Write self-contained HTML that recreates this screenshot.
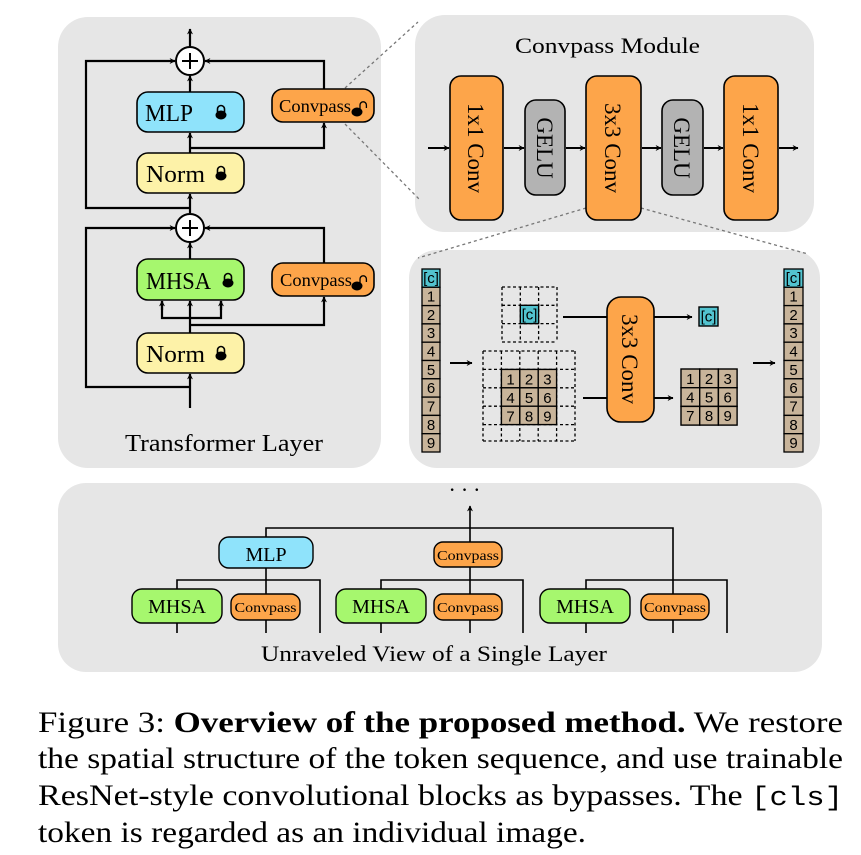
<!DOCTYPE html>
<html><head><meta charset="utf-8"><style>
html,body{margin:0;padding:0;background:#fff;width:861px;height:855px;overflow:hidden}
svg{display:block}
.s{font-family:"Liberation Serif",serif;fill:#000}
.a{font-family:"Liberation Sans",sans-serif;fill:#000}
</style></head><body>
<svg width="861" height="855" viewBox="0 0 861 855" xmlns="http://www.w3.org/2000/svg">
<defs>
<marker id="ar" viewBox="0 0 10 10" refX="9" refY="5" markerWidth="6" markerHeight="6" orient="auto-start-reverse" markerUnits="userSpaceOnUse">
<path d="M0,0 L10,5 L0,10 L3,5 z" fill="#000"/></marker>
<g id="lock"><path d="M-3.5,-1 v-3 a3.5,3.5 0 0 1 7,0 v3" fill="none" stroke="#000" stroke-width="1.6"/><ellipse cx="0" cy="2" rx="5.5" ry="4.5" fill="#000"/></g>
<g id="ulock"><path d="M3,-1 v-4 a3.2,3.2 0 0 1 6.4,0 v3" fill="none" stroke="#000" stroke-width="1.3"/><ellipse cx="0" cy="2" rx="5.5" ry="4.5" fill="#000"/></g>
</defs>

<rect x="58" y="17" width="323" height="451" rx="30" fill="#e6e6e6"/>
<rect x="415" y="15" width="399" height="217" rx="30" fill="#e6e6e6"/>
<rect x="409" y="250" width="411" height="218" rx="28" fill="#e6e6e6"/>
<rect x="58" y="483" width="764" height="189" rx="28" fill="#e6e6e6"/>

<g stroke="#777" stroke-width="1.3" stroke-dasharray="3,3" fill="none">
<line x1="345" y1="88" x2="418" y2="22"/>
<line x1="345" y1="124" x2="420" y2="200"/>
<line x1="586" y1="208" x2="418" y2="258"/>
<line x1="641" y1="208" x2="808" y2="254"/>
</g>

<g stroke="#000" stroke-width="2.2" fill="none">
<line x1="190" y1="47" x2="190" y2="29" marker-end="url(#ar)"/>
<polyline points="190,208 86,208 86,61 175,61" marker-end="url(#ar)"/>
<polyline points="324,89 324,61 205,61" marker-end="url(#ar)"/>
<line x1="190" y1="92" x2="190" y2="76" marker-end="url(#ar)"/>
<line x1="190" y1="153" x2="190" y2="133" marker-end="url(#ar)"/>
<polyline points="190,148 324,148 324,123" marker-end="url(#ar)"/>
<line x1="190" y1="213" x2="190" y2="194" marker-end="url(#ar)"/>
<polyline points="190,387 86,387 86,228 175,228" marker-end="url(#ar)"/>
<polyline points="324,263 324,228 205,228" marker-end="url(#ar)"/>
<line x1="190" y1="259" x2="190" y2="243" marker-end="url(#ar)"/>
<line x1="190" y1="333" x2="190" y2="301" marker-end="url(#ar)"/>
<polyline points="162,301 162,318 221,318 221,301"/>
<line x1="162" y1="310" x2="162" y2="301" marker-end="url(#ar)"/>
<line x1="221" y1="310" x2="221" y2="301" marker-end="url(#ar)"/>
<polyline points="190,325 324,325 324,297" marker-end="url(#ar)"/>
<line x1="190" y1="408" x2="190" y2="374" marker-end="url(#ar)"/>
</g>
<g stroke="#000" stroke-width="2">
<circle cx="190" cy="61" r="14" fill="#fff"/>
<line x1="182" y1="61" x2="198" y2="61"/><line x1="190" y1="53" x2="190" y2="69"/>
<circle cx="190" cy="228" r="14" fill="#fff"/>
<line x1="182" y1="228" x2="198" y2="228"/><line x1="190" y1="220" x2="190" y2="236"/>
</g>
<g stroke="#000" stroke-width="1.6">
<rect x="137" y="92" width="107" height="40" rx="11" fill="#8fe3fb"/>
<rect x="272" y="89" width="102" height="33" rx="11" fill="#fda54a"/>
<rect x="137" y="153" width="107" height="40" rx="11" fill="#fdf2a8"/>
<rect x="137" y="259" width="107" height="41" rx="11" fill="#a6f76e"/>
<rect x="272" y="263" width="102" height="33" rx="11" fill="#fda54a"/>
<rect x="137" y="333" width="107" height="40" rx="11" fill="#fdf2a8"/>
</g>
<text class="s" x="145" y="121" font-size="24" textLength="48" lengthAdjust="spacingAndGlyphs">MLP</text>
<use href="#lock" x="221" y="113"/>
<text class="s" x="279" y="112" font-size="18" textLength="72" lengthAdjust="spacingAndGlyphs">Convpass</text>
<use href="#ulock" x="357" y="110"/>
<text class="s" x="146" y="182" font-size="24" textLength="59" lengthAdjust="spacingAndGlyphs">Norm</text>
<use href="#lock" x="221" y="174"/>
<text class="s" x="146" y="289" font-size="24" textLength="65" lengthAdjust="spacingAndGlyphs">MHSA</text>
<use href="#lock" x="228" y="281"/>
<text class="s" x="280" y="286" font-size="18" textLength="72" lengthAdjust="spacingAndGlyphs">Convpass</text>
<use href="#ulock" x="357" y="284"/>
<text class="s" x="146" y="362" font-size="24" textLength="59" lengthAdjust="spacingAndGlyphs">Norm</text>
<use href="#lock" x="221" y="354"/>
<text class="s" x="125" y="451" font-size="24" textLength="198" lengthAdjust="spacingAndGlyphs">Transformer Layer</text>

<text class="s" x="515" y="53" font-size="22" textLength="185" lengthAdjust="spacingAndGlyphs">Convpass Module</text>
<g stroke="#000" stroke-width="2" fill="none">
<line x1="428" y1="148" x2="449" y2="148" marker-end="url(#ar)"/>
<line x1="504" y1="148" x2="524" y2="148" marker-end="url(#ar)"/>
<line x1="566" y1="148" x2="585" y2="148" marker-end="url(#ar)"/>
<line x1="642" y1="148" x2="661" y2="148" marker-end="url(#ar)"/>
<line x1="704" y1="148" x2="723" y2="148" marker-end="url(#ar)"/>
<line x1="779" y1="148" x2="798" y2="148" marker-end="url(#ar)"/>
</g>
<g stroke="#000" stroke-width="1.6">
<rect x="450" y="76" width="53" height="144" rx="11" fill="#fda54a"/>
<rect x="525" y="100" width="40" height="95" rx="11" fill="#b3b3b3"/>
<rect x="586" y="76" width="55" height="144" rx="11" fill="#fda54a"/>
<rect x="662" y="100" width="41" height="95" rx="11" fill="#b3b3b3"/>
<rect x="724" y="76" width="54" height="144" rx="11" fill="#fda54a"/>
</g>
<g class="s" font-size="23" text-anchor="middle">
<text transform="translate(476,148) rotate(90)" dy="8">1x1 Conv</text>
<text transform="translate(545,148) rotate(90)" dy="8">GELU</text>
<text transform="translate(613,148) rotate(90)" dy="8">3x3 Conv</text>
<text transform="translate(682,148) rotate(90)" dy="8">GELU</text>
<text transform="translate(751,148) rotate(90)" dy="8">1x1 Conv</text>
</g>

<g stroke="#000" stroke-width="1.3" font-size="14">
<rect x="422" y="269" width="18" height="18.3" fill="#52c3cf"/>
<rect x="422" y="287.3" width="18" height="18.3" fill="#c8b49a"/>
<rect x="422" y="305.6" width="18" height="18.3" fill="#c8b49a"/>
<rect x="422" y="323.9" width="18" height="18.3" fill="#c8b49a"/>
<rect x="422" y="342.2" width="18" height="18.3" fill="#c8b49a"/>
<rect x="422" y="360.5" width="18" height="18.3" fill="#c8b49a"/>
<rect x="422" y="378.8" width="18" height="18.3" fill="#c8b49a"/>
<rect x="422" y="397.1" width="18" height="18.3" fill="#c8b49a"/>
<rect x="422" y="415.4" width="18" height="18.3" fill="#c8b49a"/>
<rect x="422" y="433.7" width="18" height="18.3" fill="#c8b49a"/>
<rect x="784" y="269" width="19" height="18.3" fill="#52c3cf"/>
<rect x="784" y="287.3" width="19" height="18.3" fill="#c8b49a"/>
<rect x="784" y="305.6" width="19" height="18.3" fill="#c8b49a"/>
<rect x="784" y="323.9" width="19" height="18.3" fill="#c8b49a"/>
<rect x="784" y="342.2" width="19" height="18.3" fill="#c8b49a"/>
<rect x="784" y="360.5" width="19" height="18.3" fill="#c8b49a"/>
<rect x="784" y="378.8" width="19" height="18.3" fill="#c8b49a"/>
<rect x="784" y="397.1" width="19" height="18.3" fill="#c8b49a"/>
<rect x="784" y="415.4" width="19" height="18.3" fill="#c8b49a"/>
<rect x="784" y="433.7" width="19" height="18.3" fill="#c8b49a"/>
</g>
<g class="a" font-size="15" text-anchor="middle">
<text x="431" y="283">[c]</text><text x="431" y="301.5">1</text><text x="431" y="320">2</text><text x="431" y="338">3</text><text x="431" y="356.5">4</text><text x="431" y="375">5</text><text x="431" y="393">6</text><text x="431" y="411.5">7</text><text x="431" y="430">8</text><text x="431" y="448">9</text>
<text x="793.5" y="283">[c]</text><text x="793.5" y="301.5">1</text><text x="793.5" y="320">2</text><text x="793.5" y="338">3</text><text x="793.5" y="356.5">4</text><text x="793.5" y="375">5</text><text x="793.5" y="393">6</text><text x="793.5" y="411.5">7</text><text x="793.5" y="430">8</text><text x="793.5" y="448">9</text>
</g>
<g stroke="#000" stroke-width="1.3" stroke-dasharray="3,2.5" fill="none">
<path d="M502,287 H557 M502,305.3 H557 M502,323.6 H557 M502,342 H557 M502,287 V342 M520.3,287 V342 M538.6,287 V342 M557,287 V342"/>
<path d="M483,351 H575 M483,369.4 H575 M483,387.8 H575 M483,406.2 H575 M483,424.6 H575 M483,441 H575 M483,351 V441 M501.4,351 V441 M519.8,351 V441 M538.2,351 V441 M556.6,351 V441 M575,351 V441"/>
</g>
<g stroke="#000" stroke-width="1.4">
<rect x="520.3" y="305.3" width="18.3" height="18.3" fill="#52c3cf"/>
<rect x="501.4" y="369.4" width="18.4" height="18.4" fill="#c8b49a"/><rect x="519.8" y="369.4" width="18.4" height="18.4" fill="#c8b49a"/><rect x="538.2" y="369.4" width="18.4" height="18.4" fill="#c8b49a"/>
<rect x="501.4" y="387.8" width="18.4" height="18.4" fill="#c8b49a"/><rect x="519.8" y="387.8" width="18.4" height="18.4" fill="#c8b49a"/><rect x="538.2" y="387.8" width="18.4" height="18.4" fill="#c8b49a"/>
<rect x="501.4" y="406.2" width="18.4" height="18.4" fill="#c8b49a"/><rect x="519.8" y="406.2" width="18.4" height="18.4" fill="#c8b49a"/><rect x="538.2" y="406.2" width="18.4" height="18.4" fill="#c8b49a"/>
<rect x="699" y="307" width="19" height="19" fill="#52c3cf"/>
<rect x="681" y="369" width="18.7" height="18.7" fill="#c8b49a"/><rect x="699.7" y="369" width="18.7" height="18.7" fill="#c8b49a"/><rect x="718.4" y="369" width="18.7" height="18.7" fill="#c8b49a"/>
<rect x="681" y="387.7" width="18.7" height="18.7" fill="#c8b49a"/><rect x="699.7" y="387.7" width="18.7" height="18.7" fill="#c8b49a"/><rect x="718.4" y="387.7" width="18.7" height="18.7" fill="#c8b49a"/>
<rect x="681" y="406.4" width="18.7" height="18.7" fill="#c8b49a"/><rect x="699.7" y="406.4" width="18.7" height="18.7" fill="#c8b49a"/><rect x="718.4" y="406.4" width="18.7" height="18.7" fill="#c8b49a"/>
</g>
<g class="a" font-size="15" text-anchor="middle">
<text x="529.5" y="319.5">[c]</text>
<text x="510.6" y="384.5">1</text><text x="529" y="384.5">2</text><text x="547.4" y="384.5">3</text>
<text x="510.6" y="403">4</text><text x="529" y="403">5</text><text x="547.4" y="403">6</text>
<text x="510.6" y="421.5">7</text><text x="529" y="421.5">8</text><text x="547.4" y="421.5">9</text>
<text x="708.5" y="321.5">[c]</text>
<text x="690.3" y="384">1</text><text x="709" y="384">2</text><text x="727.7" y="384">3</text>
<text x="690.3" y="402.5">4</text><text x="709" y="402.5">5</text><text x="727.7" y="402.5">6</text>
<text x="690.3" y="421">7</text><text x="709" y="421">8</text><text x="727.7" y="421">9</text>
</g>
<g stroke="#000" stroke-width="2" fill="none">
<line x1="450" y1="363" x2="472" y2="363" marker-end="url(#ar)"/>
<line x1="563" y1="317" x2="608" y2="317"/>
<line x1="583" y1="398" x2="608" y2="398"/>
<line x1="654" y1="317" x2="692" y2="317" marker-end="url(#ar)"/>
<line x1="654" y1="398" x2="673" y2="398" marker-end="url(#ar)"/>
<line x1="753" y1="363" x2="775" y2="363" marker-end="url(#ar)"/>
</g>
<rect x="607" y="297" width="47" height="125" rx="14" fill="#fda54a" stroke="#000" stroke-width="1.6"/>
<text class="s" font-size="23" text-anchor="middle" transform="translate(630,359) rotate(90)" dy="8">3x3 Conv</text>

<text class="s" x="467" y="497" font-size="22" text-anchor="middle" letter-spacing="5">···</text>
<g stroke="#000" stroke-width="1.6" fill="none">
<line x1="470" y1="542" x2="470" y2="506" marker-end="url(#ar)"/>
<polyline points="266,537 266,528 673,528 673,633"/>
<line x1="266" y1="568" x2="266" y2="633"/>
<line x1="470" y1="567" x2="470" y2="633"/>
<polyline points="177,633 177,580 320,580 320,633"/>
<polyline points="381,633 381,580 523,580 523,633"/>
<polyline points="586,633 586,580 727,580 727,633"/>
</g>
<g stroke="#000" stroke-width="1.4">
<rect x="219" y="537" width="94" height="31" rx="10" fill="#8fe3fb"/>
<rect x="434" y="542" width="68" height="25" rx="9" fill="#fda54a"/>
<rect x="132" y="589" width="90" height="34" rx="10" fill="#a6f76e"/>
<rect x="231" y="594" width="69" height="26" rx="9" fill="#fda54a"/>
<rect x="336" y="589" width="90" height="34" rx="10" fill="#a6f76e"/>
<rect x="434" y="594" width="68" height="26" rx="9" fill="#fda54a"/>
<rect x="540" y="589" width="90" height="34" rx="10" fill="#a6f76e"/>
<rect x="641" y="594" width="68" height="26" rx="9" fill="#fda54a"/>
</g>
<g class="s" text-anchor="middle">
<text x="266" y="561" font-size="20">MLP</text>
<text x="468" y="560" font-size="14" textLength="62" lengthAdjust="spacingAndGlyphs">Convpass</text>
<text x="177" y="613" font-size="20">MHSA</text>
<text x="265.5" y="612" font-size="14" textLength="62" lengthAdjust="spacingAndGlyphs">Convpass</text>
<text x="381" y="613" font-size="20">MHSA</text>
<text x="468" y="612" font-size="14" textLength="62" lengthAdjust="spacingAndGlyphs">Convpass</text>
<text x="585" y="613" font-size="20">MHSA</text>
<text x="675" y="612" font-size="14" textLength="62" lengthAdjust="spacingAndGlyphs">Convpass</text>
</g>
<text class="s" x="261" y="661" font-size="22" textLength="346" lengthAdjust="spacingAndGlyphs">Unraveled View of a Single Layer</text>

<g class="s" font-size="30">
<text x="38" y="732" textLength="805" lengthAdjust="spacingAndGlyphs">Figure 3: <tspan font-weight="bold">Overview of the proposed method.</tspan> We restore</text>
<text x="38" y="768" textLength="805" lengthAdjust="spacingAndGlyphs">the spatial structure of the token sequence, and use trainable</text>
<text x="38" y="805" textLength="805" lengthAdjust="spacingAndGlyphs">ResNet-style convolutional blocks as bypasses. The <tspan font-family="Liberation Mono, monospace" font-size="27">[cls]</tspan></text>
<text x="38" y="842" textLength="548" lengthAdjust="spacingAndGlyphs">token is regarded as an individual image.</text>
</g>
</svg>
</body></html>
